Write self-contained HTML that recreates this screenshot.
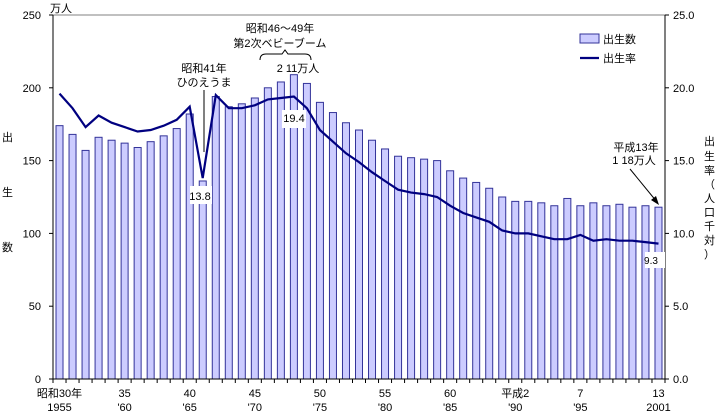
<!DOCTYPE html>
<html><head><meta charset="utf-8">
<style>
body{margin:0;background:#fff;}
svg{display:block;font-family:"Liberation Sans","Noto Sans CJK JP",sans-serif;}
</style></head>
<body>
<svg id="chart" width="716" height="414" viewBox="0 0 716 414">
<g id="bars"></g>
<g id="axes"></g>
<path id="rate-line" fill="none" stroke="#000080" stroke-width="2.2"/>
<g id="ann"></g>
</svg>
<script>
const years=[1955,1956,1957,1958,1959,1960,1961,1962,1963,1964,1965,1966,1967,1968,1969,1970,1971,1972,1973,1974,1975,1976,1977,1978,1979,1980,1981,1982,1983,1984,1985,1986,1987,1988,1989,1990,1991,1992,1993,1994,1995,1996,1997,1998,1999,2000,2001];
const births=[174,168,157,166,164,162,159,163,167,172,182,136,194,187,189,193,200,204,209,203,190,183,176,171,164,158,153,152,151,150,143,138,135,131,125,122,122,121,119,124,119,121,119,120,118,119,118];
const rates=[19.6,18.6,17.3,18.1,17.6,17.3,17.0,17.1,17.4,17.8,18.7,13.8,19.5,18.6,18.6,18.8,19.2,19.3,19.4,18.6,17.1,16.3,15.5,14.9,14.2,13.6,13.0,12.8,12.7,12.5,11.9,11.4,11.1,10.8,10.2,10.0,10.0,9.8,9.6,9.6,9.9,9.5,9.6,9.5,9.5,9.4,9.3];
const leftTicks=[0,50,100,150,200,250];
const rightTicks=["0.0","5.0","10.0","15.0","20.0","25.0"];
const xLabels=[[0,"昭和30年","1955"],[5,"35","'60"],[10,"40","'65"],[15,"45","'70"],[20,"50","'75"],[25,"55","'80"],[30,"60","'85"],[35,"平成2","'90"],[40,"7","'95"],[46,"13","2001"]];

const NS="http://www.w3.org/2000/svg";
const X0=53,X1=665,Y0=379,Y1=15;
const step=(X1-X0)/years.length;
const xc=i=>X0+step*(i+0.5);
const yL=v=>Y0-(v/250)*(Y0-Y1);
const yR=v=>Y0-(v/25)*(Y0-Y1);
function mk(tag,attrs,parent,text){const e=document.createElementNS(NS,tag);for(const k in attrs)e.setAttribute(k,attrs[k]);if(text!==undefined)e.textContent=text;parent.appendChild(e);return e;}
const bars=document.getElementById('bars'),axes=document.getElementById('axes'),ann=document.getElementById('ann');

births.forEach((v,i)=>{
  const r=mk('rect',{x:xc(i)-3.5,y:yL(v),width:7,height:Y0-yL(v),fill:"#ccccff",stroke:"#333399","stroke-width":1},bars);
  
  
});
document.getElementById('rate-line').setAttribute('d',rates.map((v,i)=>(i?'L':'M')+xc(i).toFixed(1)+' '+yR(v).toFixed(1)).join(' '));

// axes
mk('line',{x1:X0,y1:Y1,x2:X1,y2:Y1,stroke:"#808080","stroke-width":1},axes);
mk('line',{x1:X0,y1:Y1,x2:X0,y2:Y0,stroke:"#000","stroke-width":1},axes);
mk('line',{x1:X1,y1:Y1,x2:X1,y2:Y0,stroke:"#000","stroke-width":1},axes);
mk('line',{x1:X0,y1:Y0,x2:X1,y2:Y0,stroke:"#000","stroke-width":1},axes);
leftTicks.forEach(v=>{
  mk('line',{x1:X0-4,y1:yL(v),x2:X0,y2:yL(v),stroke:"#000"},axes);
  const t=mk('text',{x:X0-12,y:yL(v)+4,"text-anchor":"end","font-size":11},axes,v);
  
  
});
rightTicks.forEach((v,i)=>{
  const y=yR(i*5);
  mk('line',{x1:X1,y1:y,x2:X1+4,y2:y,stroke:"#000"},axes);
  const t=mk('text',{x:X1+8,y:y+4,"font-size":11},axes,v);
  
  
});
for(let i=0;i<=years.length;i++) mk('line',{x1:X0+step*i,y1:Y0,x2:X0+step*i,y2:Y0+4,stroke:"#000"},axes);
xLabels.forEach(([i,a,b])=>{
  const t1=mk('text',{x:xc(i),y:397,"text-anchor":"middle","font-size":11},axes,a);
  
  
  const t2=mk('text',{x:xc(i),y:411,"text-anchor":"middle","font-size":11},axes,b);
  
  
});
</script>
<svg width="716" height="414" style="position:absolute;left:0;top:0" font-family="Liberation Sans, Noto Sans CJK JP, sans-serif" font-size="11">
<text x="50" y="12">万人</text>
<g><text x="2" y="141">出</text><text x="2" y="196">生</text><text x="2" y="251">数</text></g>
<g font-size="11">
<text x="704" y="145">出</text><text x="704" y="160">生</text><text x="704" y="174">率</text><text x="704" y="188">（</text><text x="704" y="202">人</text><text x="704" y="216">口</text><text x="704" y="230">千</text><text x="704" y="244">対</text><text x="704" y="258">）</text></g>
<g>
<rect x="580" y="34" width="19" height="9" fill="#ccccff" stroke="#333399"/><text x="603" y="43">出生数</text>
<line x1="580" y1="58" x2="599" y2="58" stroke="#000080" stroke-width="2.2"/><text x="603" y="62">出生率</text></g>
<g>
<text x="204" y="72" text-anchor="middle">昭和41年</text><text x="204" y="86" text-anchor="middle">ひのえうま</text>
<line x1="204" y1="90" x2="204" y2="152" stroke="#000"/>
<rect x="190" y="186" width="22" height="18" fill="#fff"/><text x="200" y="200" text-anchor="middle">13.8</text></g>
<g>
<text x="280" y="32" text-anchor="middle">昭和46～49年</text><text x="280" y="47" text-anchor="middle">第2次ベビーブーム</text>
<path d="M260 60 Q260 54 266 54 L282 54 L285 50 L288 54 L305 54 Q311 54 311 60" fill="none" stroke="#000"/>
<text x="298" y="72" text-anchor="middle">2 11万人</text>
<rect x="282" y="110" width="24" height="18" fill="#fff"/><text x="294" y="122" text-anchor="middle">19.4</text></g>
<g>
<text x="636" y="151" text-anchor="middle">平成13年</text><text x="634" y="164" text-anchor="middle">1 18万人</text>
<line x1="630" y1="169" x2="657" y2="202" stroke="#000"/><path d="M659 205 L651 200 L656 196 Z" fill="#000"/>
<rect x="645" y="252" width="20" height="16" fill="#fff"/><text x="651" y="264" text-anchor="middle" font-size="10">9.3</text></g>
</svg>
</body></html>
